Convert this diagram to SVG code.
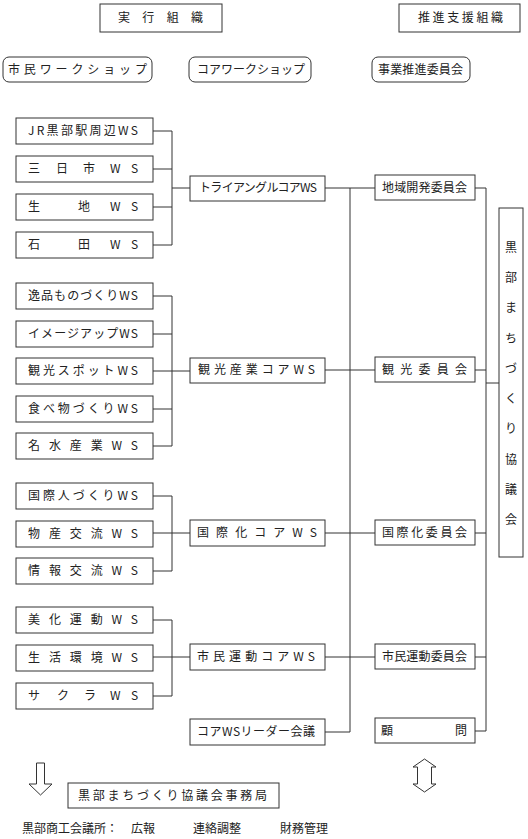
<svg xmlns="http://www.w3.org/2000/svg" width="528" height="839" viewBox="0 0 528 839">
<style>
.b{fill:#fff;stroke:#333;stroke-width:1}
.t{font-family:"Noto Sans CJK JP","Noto Sans CJK SC",sans-serif;font-size:12px;fill:#222}
.c{fill:none;stroke:#333;stroke-width:1}
</style>
<rect width="528" height="839" fill="#fff"/>
<g id="connectors">
<path class="c" d="M153 131H172M153 169H172M153 207H172M153 245H172M172 131V245M172 188H190"/>
<path class="c" d="M153 296H172M153 334H172M153 409H172M153 446H172M172 296V446M153 371H190"/>
<path class="c" d="M153 496H172M153 571H172M172 496V571M153 533H190"/>
<path class="c" d="M153 620H172M153 696H172M172 620V696M153 657H190"/>
<path class="c" d="M325 188H375M325 370H375M325 533H375M325 657H375M325 732H350M350 188V732"/>
<path class="c" d="M475 188H486M475 370H486M475 533H486M475 657H486M475 731H486M486 188V731M486 383H499"/>
<path class="c" d="M36.5 763H44.5V784H52L40.5 795L29 784H36.5Z"/>
<path class="c" d="M424.5 759L436 767H431.5V784H436L424.5 792L413 784H417.5V767H413Z"/>
</g>
<g id="h-jikko"><rect class="b" x="100" y="4" width="122" height="28"/><text class="t" x="118" y="22" textLength="85" lengthAdjust="spacing">実行組織</text></g>
<g id="h-suishin"><rect class="b" x="399" y="4" width="121" height="28"/><text class="t" x="418" y="22" textLength="85" lengthAdjust="spacing">推進支援組織</text></g>
<g id="h-shimin"><rect class="b" x="3" y="57" width="149" height="25" rx="6"/><text class="t" x="8" y="74" textLength="139" lengthAdjust="spacing">市民ワークショップ</text></g>
<g id="h-core"><rect class="b" x="189" y="57" width="122" height="25" rx="6"/><text class="t" x="197" y="74" textLength="108" lengthAdjust="spacing">コアワークショップ</text></g>
<g id="h-jigyo"><rect class="b" x="372" y="57" width="98" height="25" rx="6"/><text class="t" x="378" y="74" textLength="85" lengthAdjust="spacing">事業推進委員会</text></g>

<g id="ws-jr"><rect class="b" x="16" y="118" width="137" height="26"/><text class="t" x="28" y="135" textLength="110" lengthAdjust="spacing">JR黒部駅周辺WS</text></g>
<g id="ws-mikkaichi"><rect class="b" x="16" y="156" width="137" height="26"/><text class="t" x="28 56 83 110 131" y="173">三日市WS</text></g>
<g id="ws-ikuji"><rect class="b" x="16" y="194" width="137" height="26"/><text class="t" x="28 78 110 131" y="211">生地WS</text></g>
<g id="ws-ishida"><rect class="b" x="16" y="232" width="137" height="26"/><text class="t" x="28 78 110 131" y="249">石田WS</text></g>

<g id="ws-ippin"><rect class="b" x="16" y="283" width="137" height="26"/><text class="t" x="28" y="300" textLength="110" lengthAdjust="spacing">逸品ものづくりWS</text></g>
<g id="ws-image"><rect class="b" x="16" y="321" width="137" height="26"/><text class="t" x="28" y="338" textLength="110" lengthAdjust="spacing">イメージアップWS</text></g>
<g id="ws-spot"><rect class="b" x="16" y="358" width="137" height="26"/><text class="t" x="28" y="375" textLength="110" lengthAdjust="spacing">観光スポットWS</text></g>
<g id="ws-food"><rect class="b" x="16" y="396" width="137" height="26"/><text class="t" x="28" y="413" textLength="110" lengthAdjust="spacing">食べ物づくりWS</text></g>
<g id="ws-meisui"><rect class="b" x="16" y="433" width="137" height="26"/><text class="t" x="28" y="450" textLength="110" lengthAdjust="spacing">名水産業WS</text></g>

<g id="ws-kokusaijin"><rect class="b" x="16" y="483" width="137" height="26"/><text class="t" x="28" y="500" textLength="110" lengthAdjust="spacing">国際人づくりWS</text></g>
<g id="ws-bussan"><rect class="b" x="16" y="521" width="137" height="26"/><text class="t" x="28" y="538" textLength="110" lengthAdjust="spacing">物産交流WS</text></g>
<g id="ws-joho"><rect class="b" x="16" y="558" width="137" height="26"/><text class="t" x="28" y="575" textLength="110" lengthAdjust="spacing">情報交流WS</text></g>

<g id="ws-bika"><rect class="b" x="16" y="607" width="137" height="26"/><text class="t" x="28" y="624" textLength="110" lengthAdjust="spacing">美化運動WS</text></g>
<g id="ws-kankyo"><rect class="b" x="16" y="645" width="137" height="26"/><text class="t" x="28" y="662" textLength="110" lengthAdjust="spacing">生活環境WS</text></g>
<g id="ws-sakura"><rect class="b" x="16" y="683" width="137" height="26"/><text class="t" x="28 57 84 110 131" y="700">サクラWS</text></g>

<g id="core-triangle"><rect class="b" x="190" y="176" width="135" height="25"/><text class="t" x="199" y="192" textLength="118" lengthAdjust="spacing">トライアングルコアWS</text></g>
<g id="core-kanko"><rect class="b" x="190" y="358" width="135" height="25"/><text class="t" x="198" y="374" textLength="117" lengthAdjust="spacing">観光産業コアWS</text></g>
<g id="core-kokusai"><rect class="b" x="190" y="520" width="135" height="26"/><text class="t" x="197" y="537" textLength="120" lengthAdjust="spacing">国際化コアWS</text></g>
<g id="core-shimin"><rect class="b" x="190" y="644" width="135" height="26"/><text class="t" x="197" y="661" textLength="118" lengthAdjust="spacing">市民運動コアWS</text></g>
<g id="core-leader"><rect class="b" x="190" y="719" width="135" height="26"/><text class="t" x="197" y="736" textLength="118" lengthAdjust="spacing">コアWSリーダー会議</text></g>

<g id="com-chiiki"><rect class="b" x="375" y="175" width="100" height="25"/><text class="t" x="382" y="192" textLength="85" lengthAdjust="spacing">地域開発委員会</text></g>
<g id="com-kanko"><rect class="b" x="375" y="357" width="100" height="25"/><text class="t" x="382" y="374" textLength="85" lengthAdjust="spacing">観光委員会</text></g>
<g id="com-kokusai"><rect class="b" x="375" y="520" width="100" height="25"/><text class="t" x="382" y="537" textLength="85" lengthAdjust="spacing">国際化委員会</text></g>
<g id="com-shimin"><rect class="b" x="375" y="644" width="100" height="25"/><text class="t" x="382" y="661" textLength="85" lengthAdjust="spacing">市民運動委員会</text></g>
<g id="com-komon"><rect class="b" x="375" y="718" width="100" height="25"/><text class="t" x="381 455" y="735">顧問</text></g>

<g id="council"><rect class="b" x="499" y="208" width="24" height="349"/><text class="t" text-anchor="middle" x="511 511 511 511 511 511 511 511 511 511" y="252 282 312 343 373 403 433 464 494 524">黒部まちづくり協議会</text></g>

<g id="jimukyoku"><rect class="b" x="68" y="783" width="211" height="25"/><text class="t" x="78" y="800" textLength="189" lengthAdjust="spacing">黒部まちづくり協議会事務局</text></g>
<g id="footer"><text class="t" x="22" y="833">黒部商工会議所：</text><text class="t" x="131" y="833">広報</text><text class="t" x="193" y="833">連絡調整</text><text class="t" x="280" y="833">財務管理</text></g>
</svg>
